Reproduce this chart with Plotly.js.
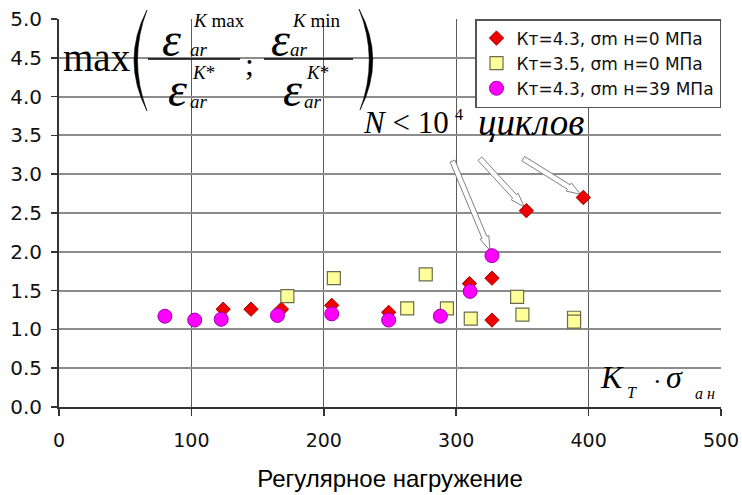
<!DOCTYPE html>
<html>
<head>
<meta charset="utf-8">
<script src="https://cdn.plot.ly/plotly-3.0.1.min.js"></script>
<style>
  html, body { margin: 0; padding: 0; background: #ffffff; }
  #chart { width: 742px; height: 495px; }
</style>
</head>
<body>
<div id="chart"></div>
<script>
// ---- Data ----
const seriesNames = ['Кт=4.3, σm н=0 МПа', 'Кт=3.5, σm н=0 МПа', 'Кт=4.3, σm н=39 МПа'];

const xKt43 = [124, 145, 168, 206, 249, 310, 327, 327, 353, 396];
const yKt43 = [1.26, 1.26, 1.26, 1.31, 1.22, 1.59, 1.66, 1.12, 2.53, 2.70];

const xKt35 = [172.5, 207.6, 263, 277, 293, 311, 346, 350, 389, 389];
const yKt35 = [1.43, 1.66, 1.27, 1.71, 1.27, 1.14, 1.42, 1.19, 1.15, 1.10];

const xKt43m39 = [80, 102.5, 122.5, 165, 206, 249, 288, 310.5, 327];
const yKt43m39 = [1.17, 1.12, 1.13, 1.18, 1.20, 1.12, 1.17, 1.49, 1.95];

// Pointer arrows ("N < 10^4 циклов") : tails and heads in data units
const arrowTailX = [297.2, 317.9, 350.6];
const arrowTailY = [3.17, 3.20, 3.20];
const arrowHeadX = [325.4, 351.3, 394.0];
const arrowHeadY = [2.02, 2.58, 2.74];

const xTickVals = [0, 100, 200, 300, 400, 500];
const yTickVals = [0, 0.5, 1.0, 1.5, 2.0, 2.5, 3.0, 3.5, 4.0, 4.5, 5.0];
const xTitle = 'Регулярное нагружение';

// ---- Layout geometry ----
const FIG_W = 742, FIG_H = 495;
const M = { l: 59, r: 21, t: 19, b: 88 };
const PW = FIG_W - M.l - M.r, PH = FIG_H - M.t - M.b;
const XR = [0, 500], YR = [0, 5];
const sx = PW / (XR[1] - XR[0]), sy = PH / (YR[1] - YR[0]);
const px2x = p => (p - M.l) / PW;          // pixel -> paper x
const py2y = p => 1 - (p - M.t) / PH;       // pixel -> paper y

const SANS = 'DejaVu Sans, Arial, sans-serif';
const ARIAL = 'Liberation Sans, Arial, sans-serif';
const SERIF = 'Liberation Serif, Times New Roman, serif';

// ---- Traces ----
const traces = [
  {
    type: 'scatter', mode: 'markers', name: seriesNames[0],
    x: xKt43, y: yKt43,
    marker: { symbol: 'diamond', size: 11, color: '#ee0000', line: { color: '#a00000', width: 1 } }
  },
  {
    type: 'scatter', mode: 'markers', name: seriesNames[1],
    x: xKt35, y: yKt35,
    marker: { symbol: 'square', size: 13, color: '#ffff99', line: { color: '#6b6b50', width: 1.2 } }
  },
  {
    type: 'scatter', mode: 'markers', name: seriesNames[2],
    x: xKt43m39, y: yKt43m39,
    marker: { symbol: 'circle', size: 14, color: '#ff00ff', line: { color: '#a000b0', width: 1 } }
  }
];

// ---- Block arrows (white with grey outline) ----
function blockArrow(tx, ty, hx, hy) {
  const t = [tx * sx, -ty * sy], h = [hx * sx, -hy * sy];
  const dx = h[0] - t[0], dy = h[1] - t[1];
  const len = Math.hypot(dx, dy);
  const d = [dx / len, dy / len], n = [-d[1], d[0]];
  const w1 = 2.6, w2 = 4.8, L = 14;
  const hb = [h[0] - d[0] * L, h[1] - d[1] * L];
  const pts = [
    [t[0] + n[0] * w1, t[1] + n[1] * w1],
    [hb[0] + n[0] * w1, hb[1] + n[1] * w1],
    [hb[0] + n[0] * w2, hb[1] + n[1] * w2],
    h,
    [hb[0] - n[0] * w2, hb[1] - n[1] * w2],
    [hb[0] - n[0] * w1, hb[1] - n[1] * w1],
    [t[0] - n[0] * w1, t[1] - n[1] * w1]
  ];
  const path = pts.map((p, i) => (i ? 'L' : 'M') + (p[0] / sx).toFixed(3) + ',' + (-p[1] / sy).toFixed(4)).join(' ') + ' Z';
  return { type: 'path', xref: 'x', yref: 'y', path: path, fillcolor: '#ffffff',
           line: { color: '#808080', width: 1 }, layer: 'between' };
}

const shapes = [];
for (let i = 0; i < arrowTailX.length; i++) {
  shapes.push(blockArrow(arrowTailX[i], arrowTailY[i], arrowHeadX[i], arrowHeadY[i]));
}

// Formula decorations: big parentheses and fraction bars (paper coordinates)
function pp(x, y) { return px2x(x).toFixed(4) + ',' + py2y(y).toFixed(4); }
shapes.push({ type: 'path', xref: 'paper', yref: 'paper',
  path: 'M' + pp(147, 10) + ' Q' + pp(121, 60) + ' ' + pp(147, 111) + ' Q' + pp(128, 60) + ' ' + pp(147, 10) + ' Z',
  fillcolor: '#000', line: { color: '#000', width: 0.6 }, layer: 'above' });
shapes.push({ type: 'path', xref: 'paper', yref: 'paper',
  path: 'M' + pp(359, 9) + ' Q' + pp(386, 59) + ' ' + pp(360, 110) + ' Q' + pp(379, 59) + ' ' + pp(359, 9) + ' Z',
  fillcolor: '#000', line: { color: '#000', width: 0.6 }, layer: 'above' });
shapes.push({ type: 'line', xref: 'paper', yref: 'paper', x0: px2x(148), x1: px2x(240), y0: py2y(59), y1: py2y(59),
  line: { color: '#000', width: 1.5 }, layer: 'above' });
shapes.push({ type: 'line', xref: 'paper', yref: 'paper', x0: px2x(264), x1: px2x(353), y0: py2y(59), y1: py2y(59),
  line: { color: '#000', width: 1.5 }, layer: 'above' });

// ---- Annotations ----
function ann(text, x, y, size, extra) {
  return Object.assign({
    text: text, xref: 'paper', yref: 'paper', x: px2x(x), y: py2y(y),
    xanchor: 'center', yanchor: 'middle', showarrow: false,
    font: { family: SERIF, size: size, color: '#000' }
  }, extra || {});
}
const annotations = [
  ann('max', 97, 58, 39),
  // fraction 1
  ann('<i>ε</i>', 171, 39, 48),
  ann('<i>K</i> max', 191, 21, 19, { xanchor: 'left' }),
  ann('<i>ar</i>', 188, 50, 19, { xanchor: 'left' }),
  ann('<i>ε</i>', 177, 89, 48),
  ann('<i>K</i>*', 190, 73, 19, { xanchor: 'left' }),
  ann('<i>ar</i>', 188, 101, 19, { xanchor: 'left' }),
  ann(';', 249, 64, 32),
  // fraction 2
  ann('<i>ε</i>', 280, 39, 48),
  ann('<i>K</i> min', 290, 21, 19, { xanchor: 'left' }),
  ann('<i>ar</i>', 288, 50, 19, { xanchor: 'left' }),
  ann('<i>ε</i>', 292, 89, 48),
  ann('<i>K</i>*', 304, 73, 19, { xanchor: 'left' }),
  ann('<i>ar</i>', 302, 101, 19, { xanchor: 'left' }),
  // N < 10^4 cycles
  ann('<i>N</i> &lt; 10', 361, 123, 31, { xanchor: 'left' }),
  ann('4', 453, 114, 16, { xanchor: 'left' }),
  ann('<i>циклов</i>', 476, 123, 37, { xanchor: 'left' }),
  // K_T · σ_a н axis label
  ann('<i>K</i>', 612, 377, 32),
  ann('<i>T</i>', 632, 392, 16),
  ann('·', 657, 381, 26),
  ann('<i>σ</i>', 674, 377, 32),
  ann('<i>а н</i>', 705, 393, 16)
];

const layout = {
  width: FIG_W, height: FIG_H,
  margin: M,
  paper_bgcolor: '#ffffff', plot_bgcolor: '#ffffff',
  showlegend: true,
  legend: {
    x: 1, xanchor: 'right', y: 1, yanchor: 'top',
    bgcolor: '#ffffff', bordercolor: '#555555', borderwidth: 1.5,
    font: { family: SANS, size: 17, color: '#111' },
    itemclick: false
  },
  xaxis: {
    range: XR, tickvals: xTickVals, ticktext: xTickVals.map(String),
    showgrid: true, gridcolor: '#5c5c5c', gridwidth: 1.3,
    zeroline: false, showline: true, linecolor: '#333', linewidth: 2,
    ticks: 'outside', ticklen: 7, tickwidth: 1.5, tickcolor: '#333',
    ticklabelstandoff: 8,
    tickfont: { family: SANS, size: 19, color: '#111' },
    title: { text: xTitle, font: { family: ARIAL, size: 24, color: '#000' }, standoff: 20 },
    fixedrange: true
  },
  yaxis: {
    range: YR, tickvals: yTickVals, ticktext: yTickVals.map(v => v.toFixed(1)),
    showgrid: true, gridcolor: '#8c8c8c', gridwidth: 2,
    zeroline: false, showline: true, linecolor: '#333', linewidth: 2,
    ticks: 'outside', ticklen: 6, tickwidth: 1.5, tickcolor: '#333',
    ticklabelstandoff: 5,
    tickfont: { family: SANS, size: 20, color: '#111' },
    fixedrange: true
  },
  shapes: shapes,
  annotations: annotations
};

Plotly.newPlot('chart', traces, layout, { displayModeBar: false, staticPlot: true });
</script>
</body>
</html>
